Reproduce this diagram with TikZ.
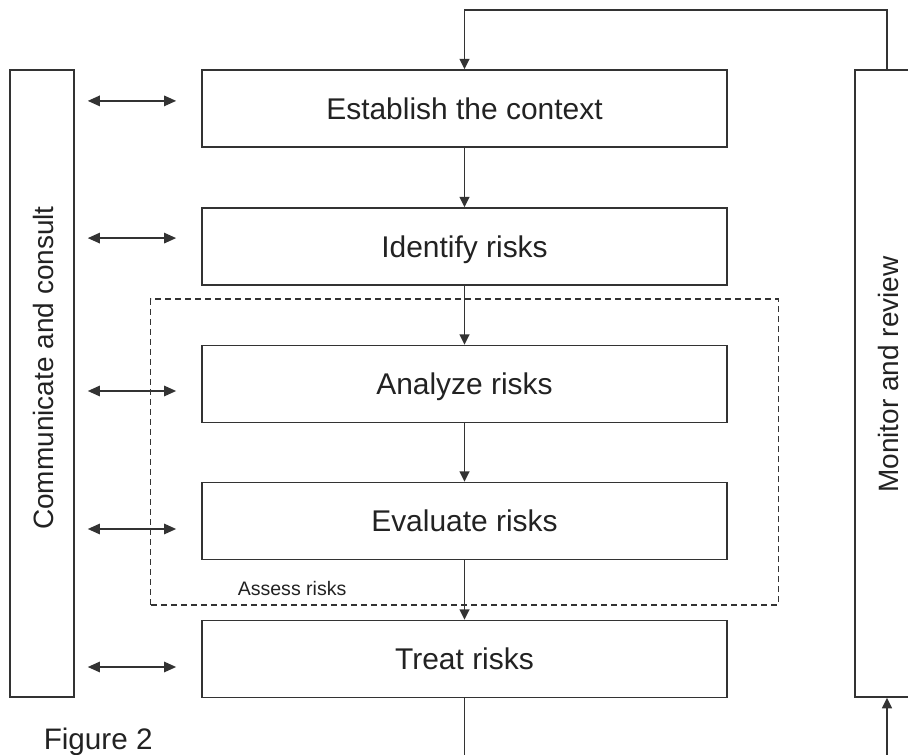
\documentclass[tikz,border=0pt]{standalone}
\usepackage{fontspec}
\setmainfont{Liberation Sans}
\usetikzlibrary{arrows.meta,positioning}
\definecolor{linec}{HTML}{333333}
\definecolor{textc}{HTML}{222222}

\begin{document}
\begin{tikzpicture}[x=0.025cm, y=-0.025cm, line width=1.1pt, color=linec,
      every node/.style={text=textc, font=\fontsize{21.3}{25}\selectfont},
      stage/.style={draw, minimum width=13.125cm, minimum height=1.925cm, inner sep=0pt,
                    text height=15.25pt, text depth=0pt},
      side/.style={draw, minimum width=1.6cm, minimum height=15.675cm, inner sep=0pt},
      sidelabel/.style={rotate=90, anchor=base, inner sep=0pt, font=\fontsize{19.9}{24}\selectfont},
      assess/.style={draw, line width=0.8pt, dash pattern=on 0.15cm off 0.1cm,
                     minimum width=15.675cm, minimum height=7.65cm, inner sep=0pt},
      flow/.style={-{Triangle[length=0.26cm, width=0.25cm]}},
      talk/.style={{Triangle[length=0.3cm, width=0.26cm]}-{Triangle[length=0.3cm, width=0.26cm]}}]
    \useasboundingbox (0,0) rectangle (908,755);
    \clip (0,0) rectangle (908,755);
    % side bars
    \node[side] (comm) at (42,383.5) {};
    \node[sidelabel] (commtxt) at (53,368) {Communicate and consult};
    \node[side] (mon) at (887,383.5) {};
    \node[sidelabel] (montxt) at (898,374.5) {Monitor and review};
    % process steps
    \node[assess] (asr) at (464.5,452) {};
    \node[stage] (est) at (464.5,108.5) {Establish the context};
    \node[stage] (idf) at (464.5,246.5) {Identify risks};
    \node[stage] (ana) at (464.5,384)   {Analyze risks};
    \node[stage] (evl) at (464.5,521)   {Evaluate risks};
    \node[stage] (trt) at (464.5,659)   {Treat risks};
    \node[anchor=base west, inner sep=0pt, font=\fontsize{13.9}{16}\selectfont] (asrlbl) at (237,595) {Assess risks};
    \node[anchor=base west, inner sep=0pt, font=\fontsize{21.1}{25}\selectfont] (fig) at (43,749) {Figure 2};
    % flow
    \foreach \a/\b in {est/idf, idf/ana, ana/evl, evl/trt}
      \draw[flow] (\a) -- (\b);
    \draw[flow] (mon.north) -- ++(0,-59) -| (est.north);
    \coordinate (low) at (464.5,790);
    \draw[flow] (trt.south) -- (low) -| (mon.south);
    % communication
    \foreach \n/\dy in {est/0.19, idf/0.21, ana/-0.175, evl/-0.2, trt/-0.2}
      \draw[talk] ([xshift=0.325cm, yshift=\dy cm]comm.east |- \n.west) -- ([xshift=-0.625cm, yshift=\dy cm]\n.west);
  \end{tikzpicture}
\end{document}
